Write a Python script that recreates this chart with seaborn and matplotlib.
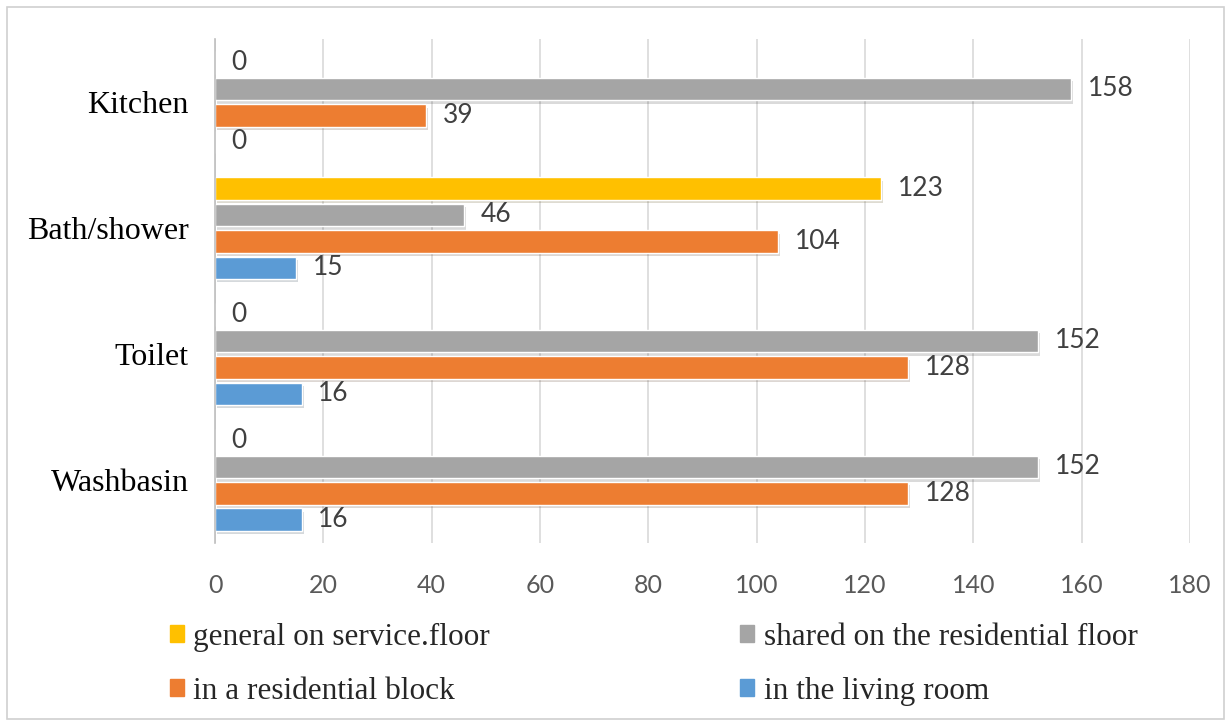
import pandas as pd
import numpy as np
import matplotlib.pyplot as plt
import matplotlib.patheffects as pe
from matplotlib.patches import Rectangle
import seaborn as sns

# data
categories = ['Kitchen', 'Bath/shower', 'Toilet', 'Washbasin']
series = ['general on service.floor', 'shared on the residential floor',
          'in a residential block', 'in the living room']
general_service = [0, 123, 0, 0]
shared_floor = [158, 46, 152, 152]
residential_block = [39, 104, 128, 128]
living_room = [0, 15, 16, 16]
ticks = [0, 20, 40, 60, 80, 100, 120, 140, 160, 180]

colors = ['#FFC000', '#A5A5A5', '#ED7D31', '#5B9BD5']

sns.set_theme(style='white')

rows = []
for name, vals in zip(series, [general_service, shared_floor, residential_block, living_room]):
    for cat, v in zip(categories, vals):
        rows.append({'category': cat, 'series': name, 'value': v})
df = pd.DataFrame(rows)

fig = plt.figure(figsize=(12.31, 7.25), dpi=100)
ax = fig.add_axes([0.1747, 0.251, 0.792, 0.695])

sns.barplot(data=df, x='value', y='category', hue='series', order=categories,
            hue_order=series, palette=colors, orient='h', width=0.84, gap=0.15,
            saturation=1, ax=ax, legend=False)

for bars in ax.containers:
    for p in bars:
        p.set_path_effects([pe.SimplePatchShadow(offset=(1.5, -2.5), alpha=0.18), pe.Normal()])
    ax.bar_label(bars, labels=[f'{int(v)}' for v in bars.datavalues], padding=12,
                 fontsize=19, color='#404040', family='Lato')

ax.set_xlim(0, 180)
ax.set_ylim(3.5, -0.5)
ax.set_xticks(ticks)
ax.set_xticklabels([str(t) for t in ticks], fontsize=18, color='#595959', family='Lato')
ax.tick_params(axis='x', length=0, pad=22)
ax.tick_params(axis='y', length=0, pad=19)
for lab in ax.get_yticklabels():
    lab.set_family('Liberation Serif')
    lab.set_fontsize(23)
    lab.set_color('#000000')
ax.set_xlabel('')
ax.set_ylabel('')
ax.grid(axis='x', color='#D9D9D9', linewidth=1.2)
ax.set_axisbelow(True)
for s in ['top', 'right', 'bottom']:
    ax.spines[s].set_visible(False)
ax.spines['left'].set_color('#BFBFBF')
ax.spines['left'].set_linewidth(1.2)

# legend: two rows, two columns
handles = [Rectangle((0, 0), 1, 1, color=c) for c in colors]
order = [0, 2, 1, 3]
fig.legend([handles[i] for i in order], [series[i] for i in order],
           loc='center', bbox_to_anchor=(0.531, 0.084), ncol=2, frameon=False,
           prop={'family': 'Liberation Serif', 'size': 22.5},
           handlelength=0.45, handleheight=0.45, handletextpad=0.3,
           columnspacing=8.0, labelspacing=0.8)

# light border around the chart area
fig.patches.append(Rectangle((0.006, 0.008), 0.988, 0.982, transform=fig.transFigure,
                             fill=False, edgecolor='#D0D0D0', linewidth=1.2))

fig.savefig('out.png', dpi=100)
